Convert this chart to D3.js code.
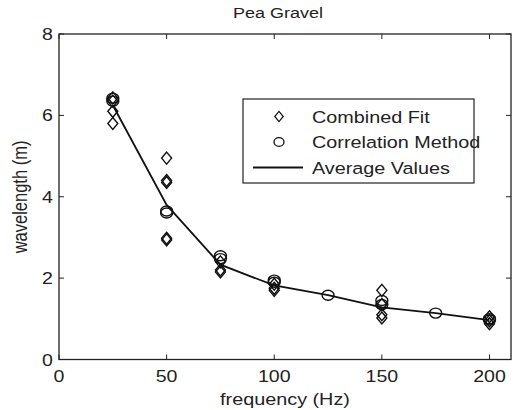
<!DOCTYPE html>
<html>
<head>
<meta charset="utf-8">
<script src="https://cdn.jsdelivr.net/npm/d3@7.9.0/dist/d3.min.js"></script>
<style>
  body { margin: 0; background: #fff; }
  svg text { font-family: "Liberation Sans", Arial, sans-serif; fill: #222; }
</style>
</head>
<body>
<svg id="chart" width="515" height="410"></svg>
<script>
// Combined Fit (diamonds)
const fitFreq = [25, 25, 25, 25, 50, 50, 50, 50, 50, 75, 75, 75, 100, 100, 100, 150, 150, 150, 150, 200, 200, 200];
const fitVal  = [6.43, 6.35, 6.1, 5.8, 4.95, 4.4, 4.35, 2.98, 2.94, 2.4, 2.2, 2.15, 1.85, 1.75, 1.7, 1.7, 1.35, 1.1, 1.02, 1.05, 0.95, 0.88];

// Correlation Method (circles)
const corrFreq = [25, 25, 50, 50, 75, 75, 100, 100, 125, 150, 150, 175, 200, 200];
const corrVal  = [6.42, 6.35, 3.65, 3.6, 2.55, 2.48, 1.95, 1.9, 1.58, 1.45, 1.35, 1.14, 1.0, 0.97];

// Average Values (line)
const avgFreq = [25, 50, 75, 100, 125, 150, 175, 200];
const avgVal  = [6.25, 3.8, 2.33, 1.82, 1.58, 1.28, 1.14, 0.97];

const xTicks = [0, 50, 100, 150, 200];
const yTicks = [0, 2, 4, 6, 8];

const svg = d3.select('#chart');
const mLeft = 59, mRight = 511, mTop = 34, mBottom = 359.5;
const sx = 1.2; // picture is stretched horizontally

const x = d3.scaleLinear().domain([0, 210]).range([mLeft, mRight]);
const y = d3.scaleLinear().domain([0, 8]).range([mBottom, mTop]);

// text helper that keeps the horizontal stretch
function label(px, py, str, size, anchor, rot) {
  svg.append('text')
    .attr('transform', `translate(${px},${py}) scale(${sx},1)` + (rot ? ` rotate(${rot})` : ''))
    .attr('text-anchor', anchor)
    .attr('font-size', size)
    .text(str);
}

// ticks, inward on all four sides
const tk = 5;
xTicks.forEach(t => {
  svg.append('line').attr('x1', x(t)).attr('x2', x(t)).attr('y1', mBottom).attr('y2', mBottom - tk).attr('stroke', '#222');
  svg.append('line').attr('x1', x(t)).attr('x2', x(t)).attr('y1', mTop).attr('y2', mTop + tk).attr('stroke', '#222');
  label(x(t), 382, t, 16.3, 'middle');
});
yTicks.forEach(t => {
  svg.append('line').attr('x1', mLeft).attr('x2', mLeft + tk).attr('y1', y(t)).attr('y2', y(t)).attr('stroke', '#222');
  svg.append('line').attr('x1', mRight).attr('x2', mRight - tk).attr('y1', y(t)).attr('y2', y(t)).attr('stroke', '#222');
  label(53, y(t) + 6, t, 16.3, 'end');
});

// box
svg.append('rect')
  .attr('x', mLeft).attr('y', mTop)
  .attr('width', mRight - mLeft).attr('height', mBottom - mTop)
  .attr('fill', 'none').attr('stroke', '#222').attr('stroke-width', 1.3);

// average line
const line = d3.line().x(d => x(d[0])).y(d => y(d[1]));
svg.append('path')
  .datum(avgFreq.map((f, i) => [f, avgVal[i]]))
  .attr('d', line)
  .attr('fill', 'none').attr('stroke', '#111').attr('stroke-width', 1.8);

// diamonds
const diamond = 'M0,-6L5,0L0,6L-5,0Z';
svg.append('g').selectAll('path')
  .data(fitFreq.map((f, i) => [f, fitVal[i]]))
  .join('path')
  .attr('d', diamond)
  .attr('transform', d => `translate(${x(d[0])},${y(d[1])})`)
  .attr('fill', 'none').attr('stroke', '#111').attr('stroke-width', 1.4);

// circles
svg.append('g').selectAll('ellipse')
  .data(corrFreq.map((f, i) => [f, corrVal[i]]))
  .join('ellipse')
  .attr('cx', d => x(d[0])).attr('cy', d => y(d[1]))
  .attr('rx', 6).attr('ry', 5)
  .attr('fill', 'none').attr('stroke', '#111').attr('stroke-width', 1.4);

// legend
svg.append('rect')
  .attr('x', 243).attr('y', 99).attr('width', 231).attr('height', 84)
  .attr('fill', '#fff').attr('stroke', '#222').attr('stroke-width', 1.2);
const legY = [116.5, 142, 167.5];
svg.append('path').attr('d', diamond).attr('transform', `translate(279,${legY[0]}) scale(0.85)`)
  .attr('fill', 'none').attr('stroke', '#111').attr('stroke-width', 1.4);
svg.append('ellipse').attr('cx', 279).attr('cy', legY[1]).attr('rx', 5).attr('ry', 4.3)
  .attr('fill', 'none').attr('stroke', '#111').attr('stroke-width', 1.3);
svg.append('line').attr('x1', 253).attr('x2', 303).attr('y1', legY[2]).attr('y2', legY[2])
  .attr('stroke', '#111').attr('stroke-width', 1.8);
['Combined Fit', 'Correlation Method', 'Average Values'].forEach((s, i) => {
  label(312, legY[i] + 6, s, 16.5, 'start');
});

// titles
label(278, 18, 'Pea Gravel', 15, 'middle');
label(285, 405, 'frequency (Hz)', 16.5, 'middle');
label(27, 197, 'wavelength (m)', 16.5, 'middle', -90);
</script>
</body>
</html>
